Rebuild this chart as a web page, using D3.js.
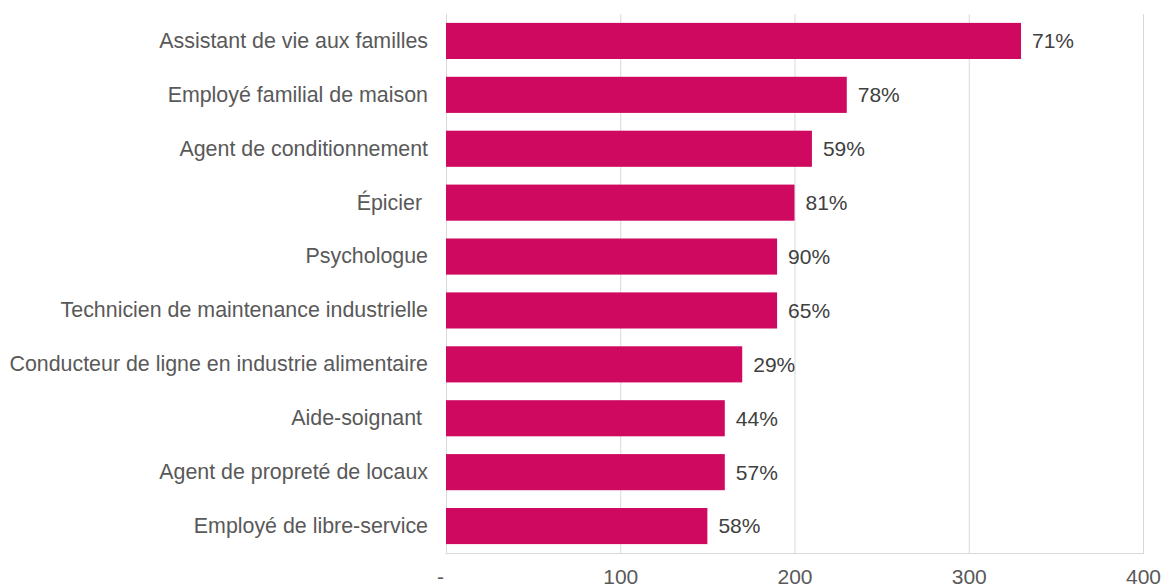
<!DOCTYPE html>
<html>
<head>
<meta charset="utf-8">
<script src="https://cdn.jsdelivr.net/npm/d3@7"></script>
<style>
  body { margin: 0; background: #fff; }
  svg { display: block; font-family: "Liberation Sans", Arial, sans-serif; }
</style>
</head>
<body>
<svg id="chart" width="1165" height="588"></svg>
<script>
const categories = [
    "Assistant de vie aux familles",
    "Employé familial de maison",
    "Agent de conditionnement",
    "Épicier ",
    "Psychologue",
    "Technicien de maintenance industrielle",
    "Conducteur de ligne en industrie alimentaire",
    "Aide-soignant ",
    "Agent de propreté de locaux",
    "Employé de libre-service"
];
const values = [330, 230, 210, 200, 190, 190, 170, 160, 160, 150];
const shares = ["71%", "78%", "59%", "81%", "90%", "65%", "29%", "44%", "57%", "58%"];
const xTicks = [0, 100, 200, 300, 400];

const data = categories.map((c, i) => ({ label: c, value: values[i], share: shares[i] }));

const svg = d3.select("#chart");
const margin = { top: 14, right: 22, bottom: 35, left: 446 };
const width = 1165 - margin.left - margin.right;
const height = 588 - margin.top - margin.bottom;
const fontSize = 21;

const g = svg.append("g")
    .attr("transform", `translate(${margin.left},${margin.top})`);

const x = d3.scaleLinear()
    .domain([0, 400])
    .range([0, width]);

const y = d3.scaleBand()
    .domain(categories)
    .range([0, height])
    .paddingInner(0.33)
    .paddingOuter(0.165);

// Gridlines
g.selectAll(".grid")
    .data(xTicks)
    .enter()
    .append("line")
    .attr("class", "grid")
    .attr("x1", d => x(d) + 0.5)
    .attr("x2", d => x(d) + 0.5)
    .attr("y1", 0)
    .attr("y2", height)
    .attr("stroke", "#d9d9d9")
    .attr("stroke-width", 1);

// Bottom line
g.append("line")
    .attr("x1", 0)
    .attr("x2", width + 1)
    .attr("y1", height + 0.5)
    .attr("y2", height + 0.5)
    .attr("stroke", "#d9d9d9");

// X axis labels
const xAxis = g.append("g")
    .attr("transform", `translate(0,${height})`)
    .call(d3.axisBottom(x)
        .tickValues(xTicks)
        .tickSize(0)
        .tickPadding(16)
        .tickFormat(d => d === 0 ? "-" : d3.format("d")(d)));
xAxis.select(".domain").remove();
xAxis.selectAll("text")
    .attr("font-size", fontSize)
    .attr("font-family", "Liberation Sans, Arial, sans-serif")
    .attr("fill", "#595959")
    .attr("dx", d => d === 0 ? "-6" : 0);

// Y axis labels (keep trailing spaces like the source labels)
const yAxis = g.append("g")
    .call(d3.axisLeft(y).tickSize(0).tickPadding(18));
yAxis.select(".domain").remove();
yAxis.selectAll("text")
    .attr("font-size", 21.4)
    .attr("font-family", "Liberation Sans, Arial, sans-serif")
    .attr("fill", "#595959")
    .style("white-space", "pre");

// Bars
g.selectAll(".bar")
    .data(data)
    .enter()
    .append("rect")
    .attr("class", "bar")
    .attr("x", 0)
    .attr("y", d => y(d.label))
    .attr("width", d => x(d.value))
    .attr("height", y.bandwidth())
    .attr("fill", "#cf0860");

// Value labels
g.selectAll(".value-label")
    .data(data)
    .enter()
    .append("text")
    .attr("class", "value-label")
    .attr("x", d => x(d.value) + 11)
    .attr("y", d => y(d.label) + y.bandwidth() / 2)
    .attr("dy", ".35em")
    .attr("font-size", fontSize)
    .attr("fill", "#404040")
    .text(d => d.share);
</script>
</body>
</html>
